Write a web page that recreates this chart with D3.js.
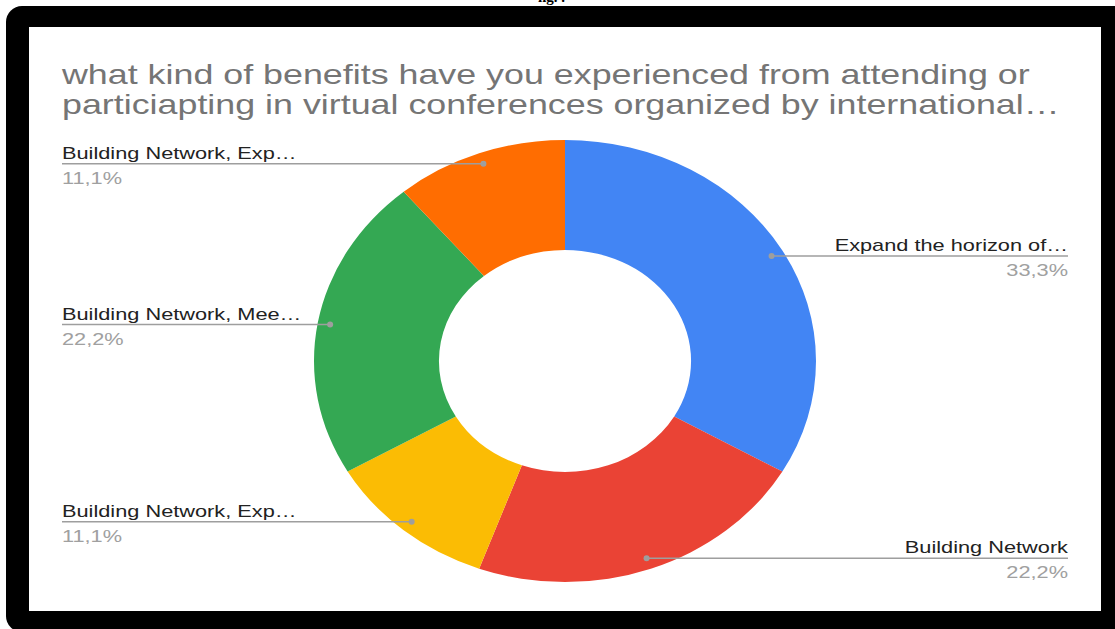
<!DOCTYPE html>
<html><head><meta charset="utf-8">
<script src="https://cdn.jsdelivr.net/npm/d3@7"></script>
<style>html,body{margin:0;padding:0;background:#fff;overflow:hidden}</style>
</head><body>
<svg id="c" width="1115" height="629"></svg>
<script>
const categories = ["Expand the horizon of…","Building Network","Building Network, Exp…","Building Network, Mee…","Building Network, Exp…"];
const values = [3, 2, 1, 2, 1];
const pctLabels = ["33,3%","22,2%","11,1%","22,2%","11,1%"];
const colors = ["#4285F4","#EA4335","#FBBC04","#34A853","#FF6D01"];
const titleLines = ["what kind of benefits have you experienced from attending or","particiapting in virtual conferences organized by international…"];

const svg = d3.select("#c");
// top cut-off caption fragment
svg.append("text").attr("x",538).attr("y",2).attr("text-anchor","start")
  .attr("font-family","Liberation Serif").attr("font-weight","bold").attr("font-size",15).text("ng. .");
// frame
svg.append("rect").attr("x",6).attr("y",6).attr("width",1125).attr("height",626).attr("rx",16).attr("fill","#000");
svg.append("rect").attr("x",29).attr("y",27).attr("width",1072).attr("height",584).attr("fill","#fff");

const sx = 251/221;   // chart horizontal stretch
const tx = 1.28;      // text horizontal stretch
const cx = 565, cy = 361, R = 221, r = 111;
// title
const tg = svg.append("g").attr("transform",`translate(62,0) scale(${tx},1)`);
titleLines.forEach((t,i)=>{
  tg.append("text").attr("x",0).attr("y",84+i*30).attr("font-family","Liberation Sans, Arial")
    .attr("font-size",28).attr("fill","#757575").text(t);
});

const pie = d3.pie().value(d=>d).sort(null);
const arcs = pie(values);
const arc = d3.arc().innerRadius(r).outerRadius(R);
const g = svg.append("g").attr("transform",`translate(${cx},${cy}) scale(${sx},1)`);
g.selectAll("path").data(arcs).enter().append("path").attr("d",arc).attr("fill",(d,i)=>colors[i]);

const dotArc = d3.arc().innerRadius(210).outerRadius(210);
const lineColor = "#9e9e9e";
arcs.forEach((a,i)=>{
  const c = dotArc.centroid(a);
  const px = cx + c[0]*sx, py = cy + c[1];
  const right = c[0] > 0;
  const x0 = right ? 1068 : 62;
  svg.append("line").attr("x1",px).attr("y1",py).attr("x2",x0).attr("y2",py)
    .attr("stroke",lineColor).attr("stroke-width",1.5);
  svg.append("circle").attr("cx",px).attr("cy",py).attr("r",3).attr("fill",lineColor);
  const lg = svg.append("g").attr("transform",`translate(${x0},${py}) scale(${tx},1)`);
  lg.append("text").attr("x",0).attr("y",-5).attr("text-anchor",right?"end":"start")
    .attr("font-family","Liberation Sans, Arial").attr("font-size",17).attr("fill","#222").text(categories[i]);
  lg.append("text").attr("x",0).attr("y",20).attr("text-anchor",right?"end":"start")
    .attr("font-family","Liberation Sans, Arial").attr("font-size",17).attr("fill","#a0a0a0").text(pctLabels[i]);
});
</script>
</body></html>
